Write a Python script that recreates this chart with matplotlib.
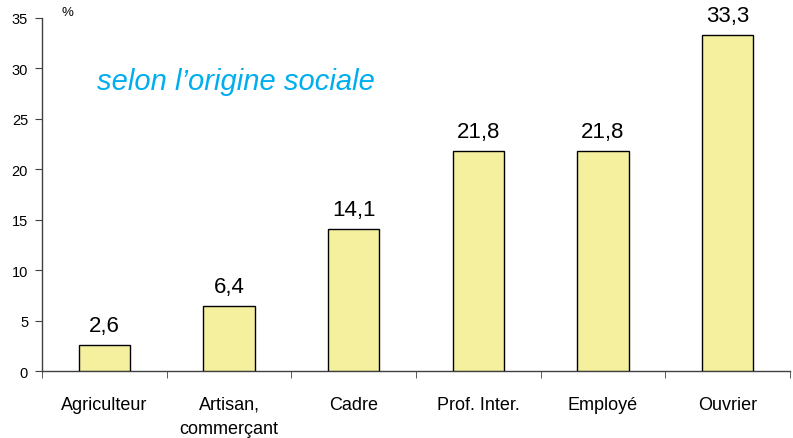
import matplotlib
matplotlib.use("Agg")
import matplotlib.pyplot as plt
import numpy as np

categories = ["Agriculteur", "Artisan,\ncommerçant", "Cadre", "Prof. Inter.", "Employé", "Ouvrier"]
values = [2.6, 6.4, 14.1, 21.8, 21.8, 33.3]
value_labels = ["2,6", "6,4", "14,1", "21,8", "21,8", "33,3"]
yticks = [0, 5, 10, 15, 20, 25, 30, 35]

plt.rcParams['font.family'] = ['Liberation Sans', 'DejaVu Sans']

fig = plt.figure(figsize=(7.93, 4.39), dpi=100)
ax = fig.add_axes([42/793, 1-372/439, 748/793, (372-19)/439])

x = np.arange(len(categories))
bars = ax.bar(x, values, width=0.41, color="#F5F09E", edgecolor="black", linewidth=1.0, zorder=3)

for xi, v, lab in zip(x, values, value_labels):
    ax.annotate(lab, (xi, v), xytext=(0, 6.5), textcoords="offset points",
                ha="center", va="bottom", fontsize=16)

ax.set_xlim(-0.5, len(categories) - 0.5)
ax.set_ylim(0, 35)
ax.set_yticks(yticks)
ax.set_yticklabels([str(t) for t in yticks], fontsize=10.5)
ax.set_xticks(x)
ax.set_xticklabels(categories, fontsize=13, linespacing=1.5)
ax.set_xticks(np.arange(len(categories) + 1) - 0.5, minor=True)
ax.tick_params(axis="x", which="major", length=0, pad=18)
ax.tick_params(axis="x", which="minor", length=5, direction="out", color="#404040")
ax.tick_params(axis="y", length=5, direction="out", color="#404040", pad=5)

for s in ["top", "right"]:
    ax.spines[s].set_visible(False)
for s in ["left", "bottom"]:
    ax.spines[s].set_color("#404040")
    ax.spines[s].set_linewidth(1.0)

fig.text(61/793, 1-19/439, "%", fontsize=9.5, ha="left", va="bottom")
ax.text(0.073, 0.80, "selon l\u2019origine sociale", transform=ax.transAxes,
        fontsize=21, style="italic", color="#00AEEF", ha="left", va="baseline")

fig.savefig("out.png", dpi=100)
